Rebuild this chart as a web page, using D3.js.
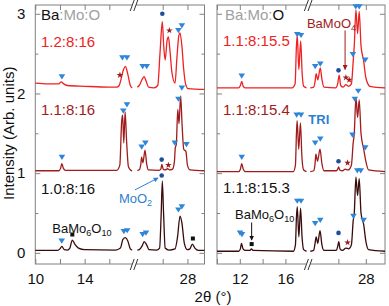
<!DOCTYPE html>
<html>
<head>
<meta charset="utf-8">
<script src="https://cdn.jsdelivr.net/npm/d3@7"></script>
<style>
    body { margin: 0; background: #fff; }
    svg { display: block; font-family: "Liberation Sans", Arial, sans-serif; }
</style>
</head>
<body>
<div id="chart"></div>
<script>
// ---- data (2theta in degrees, intensity in arb. units) ----
// left panel, Ba:Mo:O with O = 16
const ratio120 = [[10,2.13],[11,2.12],[11.9,2.12],[12.1,2.145],[12.3,2.12],[12.6,2.1],[14,2.09],[16,2.08],[16.6,2.08],[16.8,2.1],[16.95,2.18],[17.15,2.3],[17.3,2.34],[17.5,2.24],[17.7,2.1],[17.85,2.07],
    [23.95,2.08],[24.1,2.1],[24.35,2.18],[24.5,2.21],[24.65,2.16],[24.85,2.08],[25.3,2.07],[25.6,2.1],[25.78,2.5],[25.97,2.9],[26.08,2.6],[26.2,2.42],[26.35,2.66],[26.46,2.71],[26.58,2.55],[26.75,2.26],[27.0,2.13],[27.15,2.45],[27.3,2.72],[27.4,2.76],[27.55,2.6],[27.7,2.3],[27.85,2.12],[28.05,2.06],[29.38,2.05]];
const ratio110 = [[10,1.03],[11.9,1.03],[12.05,1.06],[12.15,1.12],[12.28,1.06],[12.45,1.035],[16.6,1.035],[16.85,1.1],[17.0,1.65],[17.08,1.73],[17.17,1.38],[17.28,1.77],[17.4,1.4],[17.55,1.08],[17.75,1.035],[17.85,1.03],
    [23.95,1.035],[24.1,1.04],[24.22,1.1],[24.3,1.2],[24.4,1.13],[24.57,1.29],[24.7,1.12],[24.85,1.04],[25.7,1.035],[25.85,1.05],[25.93,1.11],[26.05,1.05],[26.2,1.04],[26.4,1.055],[26.55,1.04],[26.8,1.05],[26.95,1.15],[27.02,1.32],[27.1,1.36],[27.22,1.8],[27.32,1.62],[27.45,1.97],[27.57,1.6],[27.7,1.3],[27.88,1.27],[28.0,1.1],[28.2,1.04],[29.38,1.03]];
const ratio100 = [[10,0.03],[11.8,0.03],[12.0,0.05],[12.15,0.08],[12.35,0.04],[12.6,0.035],[12.8,0.06],[13.0,0.16],[13.2,0.11],[13.5,0.06],[14,0.04],[16.5,0.035],[16.9,0.06],[17.1,0.17],[17.3,0.19],[17.5,0.15],[17.7,0.05],[17.85,0.035],
    [23.95,0.035],[24.1,0.04],[24.35,0.09],[24.5,0.14],[24.7,0.1],[24.9,0.04],[25.5,0.035],[25.75,0.06],[25.88,0.5],[25.97,0.9],[26.07,0.5],[26.2,0.06],[26.5,0.035],[27.0,0.05],[27.2,0.2],[27.4,0.46],[27.55,0.38],[27.75,0.12],[28.0,0.04],[28.2,0.05],[28.4,0.11],[28.6,0.06],[28.9,0.03],[29.38,0.03]];

// right panel, Ba:Mo = 1.1:8, O varies
const o155 = [[10,2.07],[11.9,2.07],[12.05,2.1],[12.17,2.15],[12.3,2.09],[12.5,2.07],[16.6,2.07],[16.85,2.12],[16.97,2.6],[17.04,2.73],[17.18,2.3],[17.34,2.66],[17.47,2.25],[17.6,2.09],[17.85,2.07],
    [23.95,2.07],[24.2,2.08],[24.3,2.15],[24.38,2.25],[24.5,2.17],[24.68,2.32],[24.8,2.18],[24.95,2.08],[25.8,2.07],[25.95,2.12],[26.06,2.23],[26.17,2.1],[26.35,2.08],[26.55,2.11],[26.75,2.09],[26.95,2.12],[27.08,2.4],[27.16,2.6],[27.28,3.05],[27.4,2.75],[27.52,3.03],[27.65,2.6],[27.85,2.4],[28.0,2.2],[28.3,2.09],[29.4,2.07]];
const o154 = [[10,1.02],[11.9,1.02],[12.05,1.05],[12.17,1.12],[12.3,1.05],[12.5,1.02],[16.7,1.02],[16.88,1.1],[16.97,1.5],[17.03,1.66],[17.17,1.3],[17.32,1.63],[17.45,1.2],[17.6,1.04],[17.85,1.02],
    [23.95,1.02],[24.2,1.03],[24.3,1.12],[24.36,1.24],[24.48,1.15],[24.66,1.3],[24.8,1.12],[24.95,1.03],[25.85,1.03],[25.95,1.05],[26.02,1.08],[26.1,1.04],[26.3,1.03],[26.5,1.05],[26.7,1.04],[26.95,1.1],[27.08,1.38],[27.16,1.5],[27.28,1.95],[27.4,1.7],[27.52,1.92],[27.65,1.5],[27.85,1.3],[28.0,1.15],[28.2,1.04],[29.4,1.02]];
const o153 = [[10,0.02],[11.9,0.02],[12.05,0.05],[12.15,0.12],[12.28,0.05],[12.5,0.03],[12.9,0.03],[13.02,0.05],[13.15,0.03],[16.7,0.02],[16.88,0.1],[16.97,0.45],[17.04,0.58],[17.18,0.2],[17.33,0.56],[17.46,0.2],[17.6,0.04],[17.85,0.02],
    [23.95,0.02],[24.2,0.03],[24.3,0.12],[24.38,0.2],[24.5,0.12],[24.66,0.28],[24.8,0.1],[24.95,0.03],[25.85,0.03],[25.95,0.08],[26.03,0.14],[26.12,0.05],[26.3,0.03],[26.55,0.06],[26.75,0.05],[26.95,0.1],[27.08,0.4],[27.16,0.5],[27.28,0.95],[27.4,0.72],[27.52,0.93],[27.65,0.5],[27.85,0.35],[28.0,0.15],[28.2,0.04],[29.4,0.02]];

// phase markers [2theta, intensity]
const leftTriangles = [[12.16,2.21],[17.06,2.45],[17.43,2.45],[24.38,2.34],[24.71,2.34],[27.27,2.79],[27.55,2.85],
    [12.16,1.2],[17.13,1.78],[17.43,1.86],[24.3,1.33],[24.6,1.38],[26.98,1.38],[27.92,1.36],[27.27,1.93],[27.55,2.07],
    [12.14,0.15],[17.18,0.27],[17.45,0.28],[24.38,0.23],[24.65,0.25],[27.27,0.54],[27.55,0.58]];
const leftDots = [[25.97,3.0],[25.92,1.17],[25.92,0.97]];
const leftStars = [[16.86,2.23],[26.54,2.79],[26.46,1.1]];
const leftSquares = [[13.0,0.23],[28.44,0.18]];

const rightTriangles = [[12.17,2.22],[17.04,2.74],[17.37,2.73],[24.31,2.34],[24.68,2.37],[27.06,2.49],[27.27,3.09],[27.52,3.09],[27.96,2.42],
    [12.17,1.2],[16.99,1.73],[17.37,1.73],[24.31,1.38],[24.68,1.43],[27.03,1.48],[27.96,1.32],[27.2,1.93],[27.45,2.03],
    [12.02,0.25],[12.19,0.23],[17.04,0.65],[17.37,0.65],[24.31,0.37],[24.68,0.41],[27.1,0.46],[27.84,0.41],[27.38,1.03],[27.63,1.03]];
const rightDots = [[26.01,2.29],[26.01,1.15],[26.01,0.25]];
const rightStars = [[26.55,2.2],[26.79,2.17],[26.67,1.13],[26.67,0.13]];
const rightSquares = [[13.04,0.11]];

// axes
const yTicks = [0, 1, 2, 3];
const yMinorTicks = [0.5, 1.5, 2.5];
const xTicks = [10, 12, 14, 16, 26, 28];
const leftXLabels = [10, 14, 28];
const rightXLabels = [12, 16, 28];

const RED = "#ee2222", DARKRED = "#a01c1c", DARK = "#3a0b0b";
const TRI_BLUE = "#2f86d8", DOT_BLUE = "#1d4f9a", LABEL_BLUE = "#2f7fd0";
const FRAME = "#808080";
const BREAK = 20;

const svg = d3.select("#chart").append("svg")
    .attr("width", 389)
    .attr("height", 306);

let defs = svg.append("defs");
[["arBlue", LABEL_BLUE], ["arRed", DARKRED], ["arBlack", "#111"]].forEach(a => {
    defs.append("marker")
        .attr("id", a[0])
        .attr("viewBox", "0 0 10 10")
        .attr("refX", 9).attr("refY", 5)
        .attr("markerWidth", 5).attr("markerHeight", 5)
        .attr("orient", "auto")
        .append("path")
        .attr("d", "M0,0 L10,5 L0,10 Z")
        .attr("fill", a[1]);
});

const plotTop = 5, plotBottom = 264;
const y = d3.scaleLinear().domain([-0.14, 3.11]).range([plotBottom, plotTop]);

const panels = [
    {
        domain: [10, 18, 23.68, 29.38], range: [35.3, 134, 134, 204.5],
        labels: leftXLabels, yLabels: true,
        series: [[ratio120, RED], [ratio110, DARKRED], [ratio100, DARK]],
        tri: leftTriangles, dots: leftDots, stars: leftStars, squares: leftSquares
    },
    {
        domain: [10, 18, 23.8, 29.4], range: [217, 308.2, 308.2, 385],
        labels: rightXLabels, yLabels: false,
        series: [[o155, RED], [o154, DARKRED], [o153, DARK]],
        tri: rightTriangles, dots: rightDots, stars: rightStars, squares: rightSquares
    }
];

panels.forEach((p, i) => {
    p.x = d3.scaleLinear().domain(p.domain).range(p.range);
    let x = p.x;
    let x0 = p.range[0], x1 = p.range[3];
    let g = svg.append("g");

    g.append("rect")
        .attr("x", x0).attr("y", plotTop)
        .attr("width", x1 - x0).attr("height", plotBottom - plotTop)
        .attr("fill", "none").attr("stroke", FRAME).attr("stroke-width", 1);

    function styleAxis(sel) {
        sel.select(".domain").remove();
        sel.selectAll("line").attr("stroke", FRAME);
        sel.selectAll("text").attr("fill", "#111").attr("font-size", 15)
            .attr("font-family", "Liberation Sans, Arial, sans-serif");
    }

    g.append("g").attr("transform", `translate(0,${plotBottom})`)
        .call(d3.axisBottom(x).tickValues(xTicks).tickSize(-5).tickPadding(9)
            .tickFormat(d => p.labels.includes(d) ? d : ""))
        .call(styleAxis);
    g.append("g").attr("transform", `translate(0,${plotTop})`)
        .call(d3.axisTop(x).tickValues(xTicks).tickSize(-5).tickFormat(""))
        .call(styleAxis);
    g.append("g").attr("transform", `translate(${x0},0)`)
        .call(d3.axisLeft(y).tickValues(yTicks).tickSize(-5).tickPadding(10)
            .tickFormat(d => p.yLabels ? d : ""))
        .call(styleAxis);
    g.append("g").attr("transform", `translate(${x0},0)`)
        .call(d3.axisLeft(y).tickValues(yMinorTicks).tickSize(-3).tickFormat(""))
        .call(styleAxis);
    g.append("g").attr("transform", `translate(${x1},0)`)
        .call(d3.axisRight(y).tickValues(yTicks).tickSize(-5).tickFormat(""))
        .call(styleAxis);
    g.append("g").attr("transform", `translate(${x1},0)`)
        .call(d3.axisRight(y).tickValues(yMinorTicks).tickSize(-3).tickFormat(""))
        .call(styleAxis);

    // axis break marks
    let bx = p.range[1];
    [plotTop, plotBottom].forEach(ay => {
        g.append("rect").attr("x", bx - 2).attr("y", ay - 2).attr("width", 4).attr("height", 4).attr("fill", "#fff");
        [-1.8, 1.8].forEach(off => {
            g.append("line")
                .attr("x1", bx + off - 2).attr("y1", ay + 6)
                .attr("x2", bx + off + 2).attr("y2", ay - 5)
                .attr("stroke", "#333").attr("stroke-width", 1);
        });
    });

    // curves, split at the axis break
    let line = d3.line().x(d => x(d[0])).y(d => y(d[1])).curve(d3.curveMonotoneX);
    p.series.forEach(s => {
        [s[0].filter(d => d[0] < BREAK), s[0].filter(d => d[0] > BREAK)].forEach(seg => {
            g.append("path").datum(seg)
                .attr("d", line)
                .attr("fill", "none")
                .attr("stroke", s[1])
                .attr("stroke-width", 1.3)
                .attr("stroke-linejoin", "round");
        });
    });

    // phase markers
    g.selectAll(".tri").data(p.tri).enter().append("path")
        .attr("class", "tri")
        .attr("transform", d => `translate(${x(d[0])},${y(d[1])})`)
        .attr("d", "M-3.3,-2.4 L3.3,-2.4 L0,2.8 Z")
        .attr("fill", TRI_BLUE);
    g.selectAll(".dot").data(p.dots).enter().append("circle")
        .attr("class", "dot")
        .attr("cx", d => x(d[0])).attr("cy", d => y(d[1]))
        .attr("r", 2.3)
        .attr("fill", DOT_BLUE);
    g.selectAll(".star").data(p.stars).enter().append("path")
        .attr("class", "star")
        .attr("transform", d => `translate(${x(d[0])},${y(d[1])})`)
        .attr("d", d3.symbol(d3.symbolStar).size(14))
        .attr("fill", DARKRED);
    g.selectAll(".sq").data(p.squares).enter().append("rect")
        .attr("class", "sq")
        .attr("x", d => x(d[0]) - 2).attr("y", d => y(d[1]) - 2)
        .attr("width", 4).attr("height", 4)
        .attr("fill", "#111");
});

// ---- text labels ----
let L = panels[0].x, R = panels[1].x;

function label(x, yv, parts, size, opts) {
    let t = svg.append("text")
        .attr("x", x).attr("y", y(yv))
        .attr("dy", "0.35em")
        .attr("font-size", size);
    if (opts && opts.bold) t.attr("font-weight", "bold");
    parts.forEach(pt => {
        let ts = t.append("tspan").text(pt.t).attr("fill", pt.c);
        if (pt.sub) ts.attr("font-size", size * 0.7).attr("dy", 3);
        if (pt.after) ts.attr("dy", -3);
    });
    return t;
}

const GRAY = "#a0a0a0";
label(L(10.46), 2.99, [{t: "Ba", c: "#111"}, {t: ":Mo:O", c: GRAY}], 15);
label(L(10.46), 2.65, [{t: "1.2:8:16", c: RED}], 15);
label(L(10.46), 1.79, [{t: "1.1:8:16", c: DARKRED}], 15);
label(L(10.46), 0.80, [{t: "1.0:8:16", c: "#111"}], 15);
label(L(16.78), 0.68, [{t: "MoO", c: LABEL_BLUE}, {t: "2", c: LABEL_BLUE, sub: true}], 13);
label(L(11.38), 0.31, [{t: "BaMo", c: "#111"}, {t: "6", c: "#111", sub: true}, {t: "O", c: "#111", after: true}, {t: "10", c: "#111", sub: true}], 13);

label(R(10.7), 2.99, [{t: "Ba:Mo:", c: GRAY}, {t: "O", c: "#111"}], 15);
label(R(10.53), 2.66, [{t: "1.1:8:15.5", c: RED}], 15);
label(R(10.53), 1.80, [{t: "1.1:8:15.4", c: DARKRED}], 15);
label(R(10.53), 0.82, [{t: "1.1:8:15.3", c: "#111"}], 15);
label(R(17.89), 2.88, [{t: "BaMoO", c: DARKRED}, {t: "4", c: DARKRED, sub: true}], 13);
label(R(23.81), 1.68, [{t: "TRI", c: LABEL_BLUE}], 13, {bold: true});
label(R(11.58), 0.48, [{t: "BaMo", c: "#111"}, {t: "6", c: "#111", sub: true}, {t: "O", c: "#111", after: true}, {t: "10", c: "#111", sub: true}], 13);

// arrows
function arrow(x1, y1, x2, y2, color, id) {
    svg.append("line")
        .attr("x1", x1).attr("y1", y(y1))
        .attr("x2", x2).attr("y2", y(y2))
        .attr("stroke", color).attr("stroke-width", 1)
        .attr("marker-end", `url(#${id})`);
}
arrow(L(23.76), 0.79, L(25.63), 0.94, LABEL_BLUE, "arBlue");
arrow(R(26.49), 2.79, R(26.49), 2.30, DARKRED, "arRed");
arrow(R(13.04), 0.38, R(13.04), 0.16, "#111", "arBlack");

// axis titles
svg.append("text")
    .attr("transform", `translate(9,${y(1.5)}) rotate(-90)`)
    .attr("text-anchor", "middle")
    .attr("dy", "0.35em")
    .attr("font-size", 15)
    .attr("fill", "#111")
    .text("Intensity (Arb. units)");
svg.append("text")
    .attr("x", 213).attr("y", 297)
    .attr("text-anchor", "middle")
    .attr("dy", "0.35em")
    .attr("font-size", 15)
    .attr("fill", "#111")
    .text("2θ (°)");
</script>
</body>
</html>
